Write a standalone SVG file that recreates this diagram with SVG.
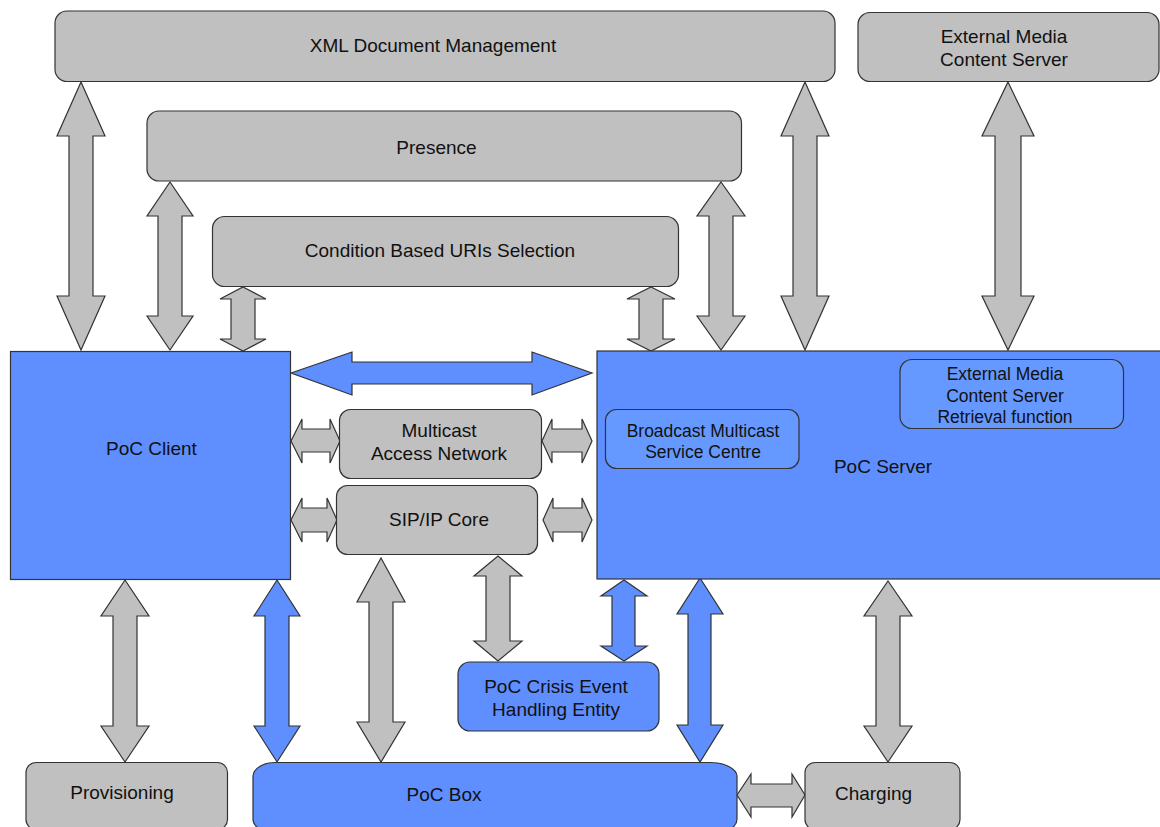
<svg xmlns="http://www.w3.org/2000/svg" width="1160" height="827" viewBox="0 0 1160 827">
<style>
.g{fill:#c0c0c0;stroke:#333;stroke-width:1.2}
.b{fill:#5f8eff;stroke:#333;stroke-width:1.2}
.bi{fill:#6699ff;stroke:#333;stroke-width:1.2}
text{font-family:"Liberation Sans",Arial,sans-serif;font-size:19px;fill:#111;text-anchor:middle}
.s{font-size:17.5px}
</style>
<rect width="1160" height="827" fill="#fff"/>
<g id="connectors">
<path class="g" d="M81,82 L105,136 L93,136 L93,296 L105,296 L81,350 L57,296 L69,296 L69,136 L57,136 Z"/>
<path class="g" d="M170,182 L193,216 L182,216 L182,316 L193,316 L170,350 L147,316 L158,316 L158,216 L147,216 Z"/>
<path class="g" d="M243,287 L266,299 L255,299 L255,339 L266,339 L243,351 L220,339 L231,339 L231,299 L220,299 Z"/>
<path class="g" d="M651,287 L675,299 L663,299 L663,339 L675,339 L651,351 L627,339 L639,339 L639,299 L627,299 Z"/>
<path class="g" d="M721,182 L745,216 L733,216 L733,316 L745,316 L721,350 L697,316 L709,316 L709,216 L697,216 Z"/>
<path class="g" d="M805,82 L829,136 L817,136 L817,296 L829,296 L805,350 L781,296 L793,296 L793,136 L781,136 Z"/>
<path class="g" d="M1008,82 L1034,136 L1021,136 L1021,296 L1034,296 L1008,350 L982,296 L995,296 L995,136 L982,136 Z"/>
<path class="b" d="M291,373 L352,352 L352,362 L532,362 L532,352 L592,373 L532,395 L532,384 L352,384 L352,395 Z"/>
<path class="g" d="M291,441 L302,419 L302,429 L330,429 L330,419 L340,441 L330,463 L330,452 L302,452 L302,463 Z"/>
<path class="g" d="M542,441 L552,419 L552,429 L582,429 L582,419 L592,441 L582,463 L582,452 L552,452 L552,463 Z"/>
<path class="g" d="M291,520 L302,498 L302,508 L327,508 L327,498 L337,520 L327,542 L327,532 L302,532 L302,542 Z"/>
<path class="g" d="M543,520 L553,498 L553,508 L582,508 L582,498 L592,520 L582,542 L582,532 L553,532 L553,542 Z"/>
<path class="g" d="M125,580 L149,616 L137,616 L137,726 L149,726 L125,762 L101,726 L113,726 L113,616 L101,616 Z"/>
<path class="b" d="M277,580 L300,616 L289,616 L289,726 L300,726 L277,762 L254,726 L265,726 L265,616 L254,616 Z"/>
<path class="g" d="M381,558 L405,602 L393,602 L393,722 L405,722 L381,762 L357,722 L369,722 L369,602 L357,602 Z"/>
<path class="g" d="M498,556 L522,576 L510,576 L510,641 L522,641 L498,661 L474,641 L486,641 L486,576 L474,576 Z"/>
<path class="b" d="M624,580 L647,596 L635,596 L635,646 L647,646 L624,661 L601,646 L612,646 L612,596 L601,596 Z"/>
<path class="b" d="M700,578 L723,614 L711,614 L711,725 L723,725 L700,762 L677,725 L688,725 L688,614 L677,614 Z"/>
<path class="g" d="M888,581 L912,616 L900,616 L900,726 L912,726 L888,762 L864,726 L876,726 L876,616 L864,616 Z"/>
<path class="g" d="M737,795 L751,774 L751,784 L792,784 L792,774 L805,795 L792,817 L792,807 L751,807 L751,817 Z"/>
</g>
<g id="xdm"><rect class="g" x="55" y="11" width="780" height="70.5" rx="12"/><text x="433" y="52">XML Document Management</text></g>
<g id="emcs"><rect class="g" x="858" y="12.5" width="301" height="69" rx="12"/><text x="1004" y="42.5">External Media</text><text x="1004" y="66">Content Server</text></g>
<g id="presence"><rect class="g" x="147" y="111" width="594.5" height="70" rx="12"/><text x="436.5" y="154">Presence</text></g>
<g id="cbus"><rect class="g" x="212.5" y="216.5" width="466" height="70" rx="12"/><text x="440" y="257">Condition Based URIs Selection</text></g>
<g id="client"><rect class="b" x="10.5" y="351.5" width="280" height="228"/><text x="151.5" y="455">PoC Client</text></g>
<g id="server"><rect class="b" x="597" y="351" width="600" height="228"/><text x="883" y="473">PoC Server</text></g>
<g id="bmsc"><rect class="bi" x="605.5" y="409.5" width="193.5" height="59" rx="11"/><text class="s" x="703" y="436.5">Broadcast Multicast</text><text class="s" x="703" y="458">Service Centre</text></g>
<g id="emcsr"><rect class="bi" x="900" y="359.5" width="223.5" height="69" rx="12"/><text class="s" x="1005" y="380">External Media</text><text class="s" x="1005" y="401.5">Content Server</text><text class="s" x="1005" y="423">Retrieval function</text></g>
<g id="man"><rect class="g" x="339.5" y="409.5" width="202" height="69" rx="11"/><text x="439" y="437">Multicast</text><text x="439" y="460">Access Network</text></g>
<g id="sip"><rect class="g" x="336.5" y="485.5" width="201" height="69" rx="11"/><text x="439" y="526">SIP/IP Core</text></g>
<g id="crisis"><rect class="b" x="458" y="662" width="201" height="69" rx="12"/><text x="556" y="693">PoC Crisis Event</text><text x="556" y="716">Handling Entity</text></g>
<g id="prov"><rect class="g" x="26" y="762.5" width="201.5" height="67" rx="10"/><text x="122" y="799">Provisioning</text></g>
<g id="box"><path class="b" d="M253,776 A22,14 0 0 1 275,762.5 L710,762.5 A27,14 0 0 1 737,776 L737,819 A10,10 0 0 1 727,829 L263,829 A10,10 0 0 1 253,819 Z"/><text x="444" y="801">PoC Box</text></g>
<g id="charging"><rect class="g" x="805" y="762.5" width="155" height="67" rx="10"/><text x="873.5" y="800">Charging</text></g>
</svg>
